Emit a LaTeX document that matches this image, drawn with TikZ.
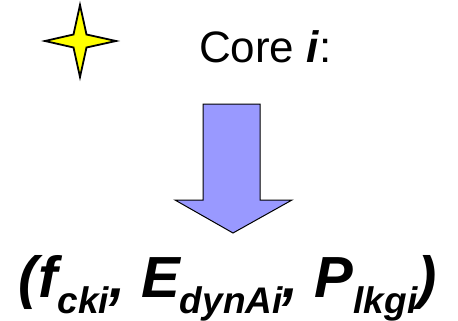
\documentclass[tikz,border=0pt]{standalone}
\usepackage{fontspec}
\setmainfont{Liberation Sans}
\definecolor{arrowblue}{HTML}{9999FF}
\definecolor{staryellow}{HTML}{FFFF00}
\newcommand{\mysub}[1]{\raisebox{-16pt}{\fontsize{37}{40}\selectfont #1}}
\begin{document}
\begin{tikzpicture}[x=1pt,y=-1pt,
  startshape/.style={draw=black,line width=1.8pt,fill=staryellow,line join=miter},
  arrowshape/.style={draw=black,line width=1pt,fill=arrowblue},
  lbl/.style={inner sep=0pt,outer sep=0pt,anchor=base west}]
\useasboundingbox (0,0) rectangle (458,321);
% star
\draw[startshape] (80,5) -- (86.5,34.5) -- (116,41) -- (86.5,47.5) -- (80,77) -- (73.5,47.5) -- (45,41) -- (73.5,34.5) -- cycle;
% title
\node[lbl] (core) at (199,63) {\fontsize{44}{50}\selectfont Core \textbf{\textit{i}}:};
% arrow
\draw[arrowshape] (203,104) -- (260,104) -- (260,200) -- (292,200) -- (233,233) -- (175,200) -- (203,200) -- cycle;
% result
\node[lbl] (res) at (19,297) {\fontsize{58}{64}\selectfont\bfseries\itshape (f\mysub{cki}, E\mysub{dynAi}, P\mysub{lkgi})};
\end{tikzpicture}
\end{document}
